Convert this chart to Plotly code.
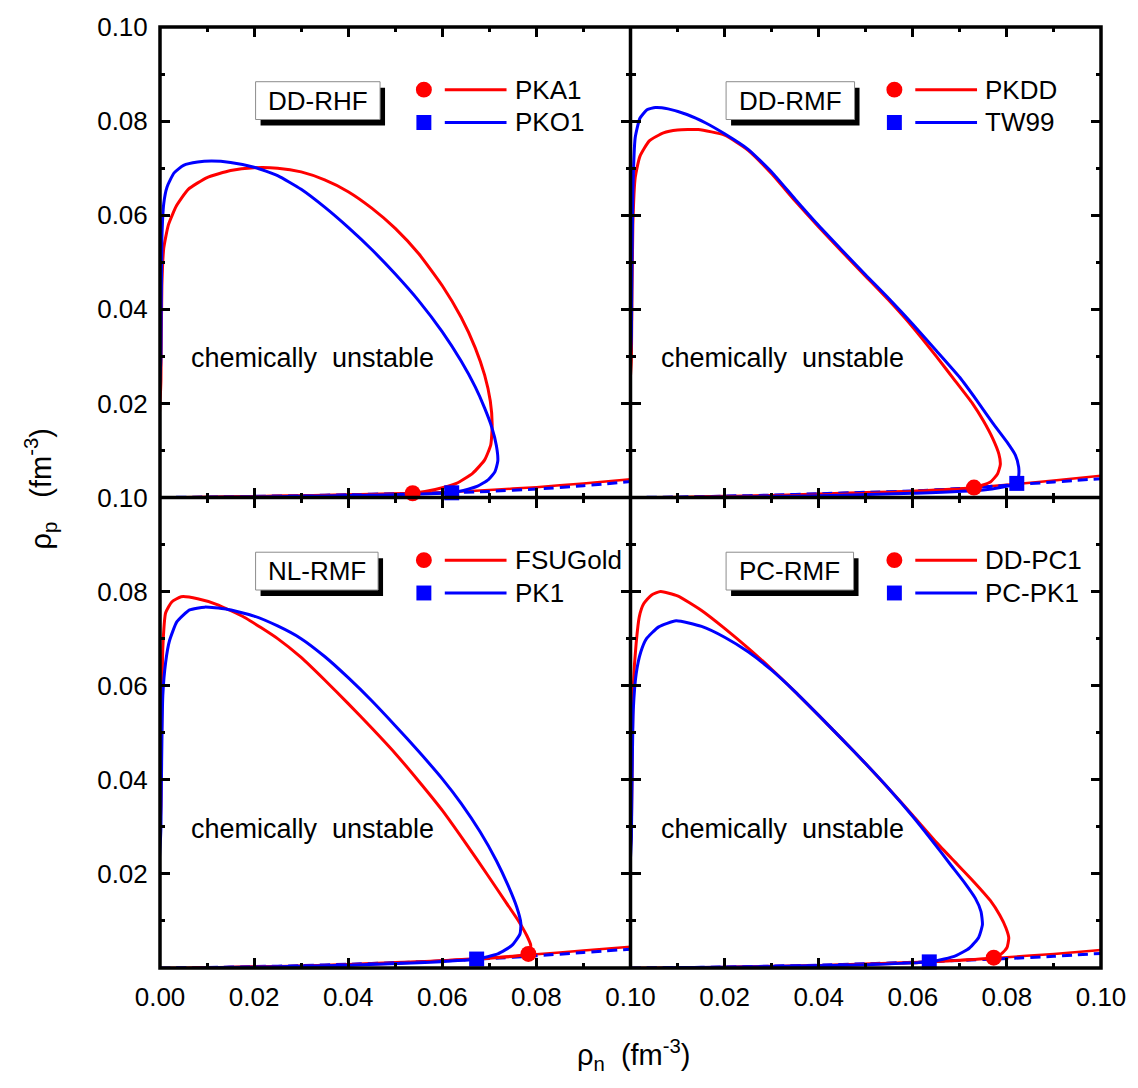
import plotly.graph_objects as go
from plotly.subplots import make_subplots

FONT = "Liberation Sans, Arial, Helvetica, sans-serif"
RED = "#ff0000"
BLUE = "#0000ff"

# ---------------- data ----------------
# beta-equilibrium lines (rho_p vs rho_n) on a common rho_n grid
beta_n = [0.0, 0.01, 0.02, 0.03, 0.04, 0.05, 0.06, 0.07, 0.08, 0.09, 0.10]
beta_pka1 = [0, 0.00012, 0.00028, 0.00045, 0.00065, 0.00085, 0.0011, 0.0016, 0.0022, 0.0030, 0.0039]
beta_pko1 = [0, 0.0001, 0.00025, 0.0004, 0.0006, 0.0008, 0.00098, 0.0013, 0.0018, 0.0025, 0.0034]
beta_pkdd = [0, 0.0001, 0.0003, 0.0005, 0.0008, 0.0011, 0.0014, 0.0019, 0.0027, 0.0036, 0.0046]
beta_tw99 = [0, 0.0001, 0.0003, 0.0005, 0.0008, 0.0011, 0.0014, 0.0019, 0.0026, 0.0033, 0.0040]
beta_fsugold = [0, 0.0001, 0.0003, 0.0005, 0.0008, 0.0012, 0.0016, 0.0022, 0.0029, 0.0037, 0.0045]
beta_pk1 = [0, 0.0001, 0.0003, 0.0005, 0.0008, 0.0011, 0.0015, 0.0020, 0.0026, 0.0033, 0.0040]
beta_ddpc1 = [0, 0.0001, 0.0002, 0.0004, 0.0006, 0.0009, 0.0012, 0.0017, 0.0023, 0.0030, 0.0038]
beta_pcpk1 = [0, 0.0001, 0.0002, 0.0004, 0.0006, 0.0009, 0.0012, 0.0016, 0.0020, 0.0025, 0.0031]

# spinodal boundaries (rho_n, rho_p): up the left edge, over the top, down the right, back along the bottom
pka1_n = [0, 0.0002, 0.0004, 0.0008, 0.0018, 0.0035, 0.006, 0.010, 0.015, 0.020, 0.025, 0.030,
          0.035, 0.040, 0.045, 0.050, 0.055, 0.060, 0.064, 0.067, 0.069, 0.0702, 0.0706, 0.0703,
          0.0690, 0.0665, 0.0630, 0.0585, 0.0537, 0.045, 0.035, 0.025, 0.015, 0.005, 0]
pka1_p = [0, 0.025, 0.045, 0.053, 0.058, 0.0620, 0.0655, 0.0680, 0.0695, 0.0701, 0.0700, 0.0692,
          0.0675, 0.0650, 0.0615, 0.0572, 0.0518, 0.0450, 0.0383, 0.0318, 0.0260, 0.0205, 0.0155, 0.0112,
          0.0080, 0.0052, 0.0030, 0.0017, 0.0009, 0.0006, 0.0004, 0.00025, 0.0001, 0.00002, 0]
pko1_n = [0, 0.0002, 0.0004, 0.0008, 0.0015, 0.003, 0.005, 0.008, 0.011, 0.015, 0.020, 0.025,
          0.030, 0.035, 0.040, 0.045, 0.050, 0.055, 0.060, 0.064, 0.067, 0.069, 0.0705, 0.0715,
          0.0718, 0.0712, 0.0698, 0.0675, 0.0645, 0.0620, 0.050, 0.040, 0.030, 0.020, 0.010, 0]
pko1_p = [0, 0.030, 0.055, 0.0625, 0.066, 0.069, 0.0706, 0.0713, 0.0715, 0.0712, 0.0702, 0.0684,
          0.0655, 0.0617, 0.0574, 0.0527, 0.0475, 0.0418, 0.0352, 0.0290, 0.0235, 0.0190, 0.0150, 0.0110,
          0.0078, 0.0055, 0.0038, 0.0024, 0.0015, 0.0010, 0.0006, 0.0004, 0.00025, 0.00012, 0.00004, 0]

pkdd_n = [0, 0.0002, 0.0005, 0.001, 0.002, 0.004, 0.007, 0.010, 0.0144, 0.020, 0.025, 0.030,
          0.035, 0.040, 0.045, 0.050, 0.055, 0.060, 0.065, 0.069, 0.0726, 0.075, 0.077, 0.0783,
          0.0786, 0.0780, 0.0765, 0.0730, 0.060, 0.045, 0.030, 0.015, 0]
pkdd_p = [0, 0.030, 0.058, 0.068, 0.0725, 0.0758, 0.0775, 0.0781, 0.0782, 0.0770, 0.0738, 0.0688,
          0.0630, 0.0575, 0.0522, 0.0470, 0.0418, 0.0362, 0.0300, 0.0248, 0.0201, 0.0163, 0.0125, 0.0092,
          0.0070, 0.0050, 0.0033, 0.0021, 0.0013, 0.0007, 0.0003, 0.0001, 0]
tw99_n = [0, 0.0002, 0.0005, 0.001, 0.002, 0.0035, 0.0053, 0.008, 0.012, 0.016, 0.020, 0.025,
          0.030, 0.035, 0.040, 0.045, 0.050, 0.055, 0.060, 0.065, 0.070, 0.0737, 0.077, 0.080,
          0.0818, 0.0825, 0.0825, 0.0821, 0.075, 0.060, 0.045, 0.030, 0.015, 0]
tw99_p = [0, 0.035, 0.065, 0.0765, 0.0806, 0.0824, 0.0829, 0.0826, 0.0814, 0.0796, 0.0773, 0.0740,
          0.0692, 0.0634, 0.0578, 0.0525, 0.0473, 0.0422, 0.0368, 0.0312, 0.0255, 0.0205, 0.0158, 0.0118,
          0.0090, 0.0065, 0.0045, 0.0030, 0.0016, 0.0009, 0.0005, 0.0002, 0.00005, 0]

fsugold_n = [0, 0.0002, 0.0006, 0.0012, 0.0025, 0.0045, 0.008, 0.012, 0.018, 0.025, 0.030, 0.035,
             0.040, 0.045, 0.050, 0.055, 0.060, 0.065, 0.0698, 0.0735, 0.0762, 0.0780, 0.0788, 0.0783,
             0.065, 0.050, 0.035, 0.020, 0.008, 0]
fsugold_p = [0, 0.035, 0.068, 0.0755, 0.0778, 0.0789, 0.0785, 0.0773, 0.0745, 0.0700, 0.0660, 0.0612,
             0.0562, 0.0510, 0.0456, 0.0397, 0.0335, 0.0265, 0.0195, 0.0140, 0.0100, 0.0068, 0.0048, 0.0030,
             0.0018, 0.0010, 0.0005, 0.0002, 0.00004, 0]
pk1_n = [0, 0.0002, 0.0006, 0.0012, 0.0020, 0.0036, 0.0063, 0.0095, 0.014, 0.020, 0.025, 0.030,
         0.035, 0.040, 0.045, 0.050, 0.055, 0.060, 0.064, 0.068, 0.0715, 0.074, 0.0758, 0.0767,
         0.0765, 0.0748, 0.0718, 0.0673, 0.055, 0.040, 0.025, 0.010, 0]
pk1_p = [0, 0.030, 0.058, 0.065, 0.0695, 0.0736, 0.0761, 0.0767, 0.0763, 0.0748, 0.0727, 0.0700,
         0.0662, 0.0617, 0.0568, 0.0515, 0.0460, 0.0402, 0.0350, 0.0290, 0.0228, 0.0175, 0.0130, 0.0095,
         0.0072, 0.0048, 0.0030, 0.0019, 0.0011, 0.0006, 0.00025, 0.00005, 0]

ddpc1_n = [0, 0.0002, 0.0006, 0.0012, 0.0019, 0.0028, 0.0045, 0.0064, 0.010, 0.0151, 0.020, 0.025,
           0.030, 0.035, 0.040, 0.045, 0.050, 0.055, 0.060, 0.065, 0.069, 0.073, 0.0765, 0.0785,
           0.0798, 0.0804, 0.0800, 0.0788, 0.0772, 0.060, 0.045, 0.030, 0.015, 0]
ddpc1_p = [0, 0.030, 0.060, 0.069, 0.0748, 0.0774, 0.0793, 0.0800, 0.0791, 0.0760, 0.0722, 0.0680,
           0.0635, 0.0587, 0.0537, 0.0486, 0.0434, 0.0380, 0.0324, 0.0267, 0.0225, 0.0183, 0.0143, 0.0112,
           0.0085, 0.0064, 0.0043, 0.0030, 0.0022, 0.0011, 0.0006, 0.00025, 0.00006, 0]
pcpk1_n = [0, 0.0002, 0.0006, 0.0012, 0.0022, 0.0034, 0.0060, 0.0097, 0.0151, 0.020, 0.025, 0.030,
           0.035, 0.040, 0.045, 0.050, 0.055, 0.060, 0.064, 0.068, 0.0711, 0.0733, 0.0745, 0.0748,
           0.0740, 0.0720, 0.0693, 0.0667, 0.0635, 0.050, 0.035, 0.020, 0.008, 0]
pcpk1_p = [0, 0.028, 0.055, 0.0625, 0.0672, 0.0700, 0.0725, 0.0738, 0.0726, 0.0703, 0.0672, 0.0633,
           0.0587, 0.0537, 0.0486, 0.0434, 0.0380, 0.0322, 0.0272, 0.0220, 0.0180, 0.0148, 0.0120, 0.0092,
           0.0065, 0.0042, 0.0027, 0.0019, 0.0013, 0.0007, 0.0004, 0.00015, 0.00003, 0]

# crossing points (spinodal with beta-equilibrium)
cross_red_n = [0.0537, 0.0730, 0.0783, 0.0772]
cross_red_p = [0.0009, 0.0021, 0.0030, 0.0022]
cross_blue_n = [0.0620, 0.0821, 0.0673, 0.0635]
cross_blue_p = [0.0010, 0.0030, 0.0019, 0.0013]

panel_labels = ["DD-RHF", "DD-RMF", "NL-RMF", "PC-RMF"]
red_names = ["PKA1", "PKDD", "FSUGold", "DD-PC1"]
blue_names = ["PKO1", "TW99", "PK1", "PC-PK1"]
region_text = "chemically\u00a0\u00a0unstable"

tick_vals = [0.0, 0.02, 0.04, 0.06, 0.08, 0.10]
minor_vals = [0.01, 0.03, 0.05, 0.07, 0.09]
tick_text_full = ["0.00", "0.02", "0.04", "0.06", "0.08", "0.10"]
tick_text_nozero = ["", "0.02", "0.04", "0.06", "0.08", "0.10"]

red_spin = [(pka1_n, pka1_p), (pkdd_n, pkdd_p), (fsugold_n, fsugold_p), (ddpc1_n, ddpc1_p)]
blue_spin = [(pko1_n, pko1_p), (tw99_n, tw99_p), (pk1_n, pk1_p), (pcpk1_n, pcpk1_p)]
red_beta = [beta_pka1, beta_pkdd, beta_fsugold, beta_ddpc1]
blue_beta = [beta_pko1, beta_tw99, beta_pk1, beta_pcpk1]

# ---------------- figure ----------------
fig = make_subplots(rows=2, cols=2, horizontal_spacing=0, vertical_spacing=0)
positions = [(1, 1), (1, 2), (2, 1), (2, 2)]

for i, (r, c) in enumerate(positions):
    fig.add_trace(go.Scatter(x=beta_n, y=red_beta[i], mode="lines",
                             line=dict(color=RED, width=2.5, shape="spline", smoothing=0.6),
                             showlegend=False, hoverinfo="skip"), row=r, col=c)
    fig.add_trace(go.Scatter(x=beta_n, y=blue_beta[i], mode="lines",
                             line=dict(color=BLUE, width=3, dash="10px,6px", shape="spline", smoothing=0.6),
                             showlegend=False, hoverinfo="skip"), row=r, col=c)
    fig.add_trace(go.Scatter(x=red_spin[i][0], y=red_spin[i][1], mode="lines",
                             line=dict(color=RED, width=3, shape="spline", smoothing=0.5),
                             showlegend=False, name=red_names[i]), row=r, col=c)
    fig.add_trace(go.Scatter(x=blue_spin[i][0], y=blue_spin[i][1], mode="lines",
                             line=dict(color=BLUE, width=3, shape="spline", smoothing=0.5),
                             showlegend=False, name=blue_names[i]), row=r, col=c)
    fig.add_trace(go.Scatter(x=[cross_red_n[i]], y=[cross_red_p[i]], mode="markers",
                             marker=dict(color=RED, size=16, symbol="circle"), cliponaxis=False,
                             showlegend=False), row=r, col=c)
    fig.add_trace(go.Scatter(x=[cross_blue_n[i]], y=[cross_blue_p[i]], mode="markers",
                             marker=dict(color=BLUE, size=15, symbol="square"), cliponaxis=False,
                             showlegend=False), row=r, col=c)

axis_common = dict(range=[0, 0.1], showgrid=False, zeroline=False, showline=True, linecolor="black",
                   linewidth=1, mirror="allticks", ticks="inside", ticklen=10, tickwidth=2.5,
                   tickcolor="black", tickmode="array", tickvals=tick_vals,
                   tickfont=dict(family=FONT, size=26, color="black"),
                   minor=dict(ticks="inside", ticklen=5, tickwidth=2.5, tickcolor="black",
                              tickmode="array", tickvals=minor_vals, showgrid=False))

for i, (r, c) in enumerate(positions):
    xa = dict(axis_common)
    ya = dict(axis_common)
    if r == 1:
        xa["showticklabels"] = False
    else:
        xa["ticktext"] = tick_text_full if c == 1 else tick_text_nozero
        xa["ticklabelstandoff"] = 6
    if c == 2:
        ya["showticklabels"] = False
    else:
        ya["ticktext"] = tick_text_nozero
        ya["ticklabelstandoff"] = 6
    fig.update_xaxes(row=r, col=c, **xa)
    fig.update_yaxes(row=r, col=c, **ya)

# panel decorations (box labels, legends, region text)
PXX = 4725.0  # pixels per unit of rho_n
PXY = 4730.0  # pixels per unit of rho_p
def px(dx):
    return dx / PXX
def py(dy):
    return 0.1 - dy / PXY

# outer frame and inner dividing lines
shapes = [
    dict(type="rect", xref="paper", yref="paper", x0=0, x1=1, y0=0, y1=1,
         line=dict(color="black", width=3.5), layer="above"),
    dict(type="line", xref="paper", yref="paper", x0=0.5, x1=0.5, y0=0, y1=1,
         line=dict(color="black", width=3.5), layer="above"),
    dict(type="line", xref="paper", yref="paper", x0=0, x1=1, y0=0.5, y1=0.5,
         line=dict(color="black", width=3.5), layer="above"),
]
box_w = [125, 129, 123, 128]
annotations = []
for i in range(4):
    xr = "x" if i == 0 else "x%d" % (i + 1)
    yr = "y" if i == 0 else "y%d" % (i + 1)
    w = box_w[i]
    shapes.append(dict(type="rect", xref=xr, yref=yr, x0=px(101), x1=px(101 + w), y0=py(99), y1=py(61),
                       fillcolor="black", line=dict(width=0), layer="above"))
    shapes.append(dict(type="rect", xref=xr, yref=yr, x0=px(96), x1=px(96 + w), y0=py(93), y1=py(55),
                       fillcolor="white", line=dict(color="#8c8c8c", width=1), layer="above"))
    annotations.append(dict(xref=xr, yref=yr, x=px(96 + w / 2), y=py(74), text=panel_labels[i],
                            showarrow=False, xanchor="center", yanchor="middle",
                            font=dict(family=FONT, size=26, color="black")))
    shapes.append(dict(type="circle", xref=xr, yref=yr, x0=px(257), x1=px(273), y0=py(71), y1=py(55),
                       fillcolor=RED, line=dict(width=0), layer="above"))
    shapes.append(dict(type="rect", xref=xr, yref=yr, x0=px(257.5), x1=px(272.5), y0=py(103.5), y1=py(88.5),
                       fillcolor=BLUE, line=dict(width=0), layer="above"))
    shapes.append(dict(type="line", xref=xr, yref=yr, x0=px(286), x1=px(348), y0=py(63), y1=py(63),
                       line=dict(color=RED, width=3), layer="above"))
    shapes.append(dict(type="line", xref=xr, yref=yr, x0=px(286), x1=px(348), y0=py(96), y1=py(96),
                       line=dict(color=BLUE, width=3), layer="above"))
    annotations.append(dict(xref=xr, yref=yr, x=px(354), y=py(63), text=red_names[i], showarrow=False,
                            xanchor="left", yanchor="middle", font=dict(family=FONT, size=26, color="black")))
    annotations.append(dict(xref=xr, yref=yr, x=px(354), y=py(96), text=blue_names[i], showarrow=False,
                            xanchor="left", yanchor="middle", font=dict(family=FONT, size=26, color="black")))
    annotations.append(dict(xref=xr, yref=yr, x=px(153), y=py(333), text=region_text, showarrow=False,
                            xanchor="center", yanchor="middle", font=dict(family=FONT, size=27, color="black")))

# axis titles
annotations.append(dict(xref="paper", yref="paper", x=0.504, y=-0.092,
                        text="ρ<sub>n</sub>\u00a0\u00a0(fm<sup>-3</sup>)",
                        showarrow=False, xanchor="center", yanchor="middle",
                        font=dict(family=FONT, size=29, color="black")))
annotations.append(dict(xref="paper", yref="paper", x=-0.127, y=0.51,
                        text="ρ<sub>p</sub>\u00a0\u00a0\u00a0(fm<sup>-3</sup>)",
                        showarrow=False, xanchor="center", yanchor="middle", textangle=-90,
                        font=dict(family=FONT, size=29, color="black")))

fig.update_layout(width=1138, height=1088, margin=dict(l=160, r=33, t=22, b=120),
                  paper_bgcolor="white", plot_bgcolor="white", showlegend=False,
                  shapes=shapes, annotations=annotations)

fig.write_html("out.html")
